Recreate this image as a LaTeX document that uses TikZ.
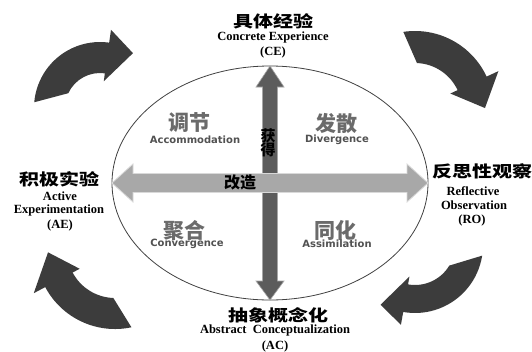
\documentclass[tikz,border=0pt]{standalone}
\usepackage{fontspec}
\setmainfont{Liberation Serif}
\newfontfamily\cjk{Noto Sans CJK SC}
\newfontfamily\cjkwide[FakeStretch=1.25]{Noto Sans CJK SC}
\newfontfamily\dvs{DejaVu Sans}
\usetikzlibrary{calc}
\definecolor{cdark}{HTML}{3C3C3C}
\definecolor{vdark}{HTML}{5C5C5C}
\definecolor{hlight}{HTML}{A8A8A8}
\newcommand{\carrow}[9]{%
  \fill[cdark] ($(#1,#2)+({#5}:{#4})$) arc[start angle=#5, end angle=#7, radius=#4]
    -- ($(#1,#2)+({#7}:{#4+13})$) -- ($(#1,#2)+({#8}:{#9})$) -- ($(#1,#2)+({#7}:{#3-8})$)
    -- ($(#1,#2)+({#7}:{#3})$) arc[start angle=#7, end angle=#6, radius=#3] -- cycle;}
\begin{document}
\begin{tikzpicture}[x=1pt,y=-1pt,
  cornercn/.style={inner sep=0pt, font=\cjkwide\bfseries\fontsize{16}{18}\selectfont},
  corneren/.style={inner sep=0pt, font=\bfseries\fontsize{12.5}{14}\selectfont},
  quadcn/.style={inner sep=0pt, text=black!58, font=\cjk\bfseries\fontsize{21}{23}\selectfont},
  quaden/.style={inner sep=0pt, text=black!68, font=\dvs\bfseries\fontsize{10}{12}\selectfont},
  arrowlabel/.style={inner sep=0pt, text=black, font=\cjk\bfseries\fontsize{15}{16}\selectfont},
  ellipseline/.style={draw=black!75, line width=0.8pt, fill=white}]
\useasboundingbox (0,0) rectangle (532,351);
\fill[white] (0,0) rectangle (532,351);

% ellipse
\draw[ellipseline] (270,183) ellipse[x radius=158, y radius=117];

% vertical double arrow
\draw[fill=vdark, draw=black!35, line width=0.6pt]
  (270,66) -- (284,87) -- (277.5,87) -- (277.5,281) -- (284,281) -- (270,300)
  -- (256,281) -- (262.5,281) -- (262.5,87) -- (256,87) -- cycle;
% horizontal double arrow
\draw[fill=hlight, draw=black!15, line width=0.8pt]
  (112,183) -- (133,164) -- (133,173.5) -- (407,173.5) -- (407,164) -- (428,183)
  -- (407,202) -- (407,192.5) -- (133,192.5) -- (133,202) -- cycle;

\node[arrowlabel, align=center] (get) at (268,143) {获\\[-2pt]得};
\node[arrowlabel, font=\cjk\bfseries\fontsize{16}{18}\selectfont] (transform) at (240,182) {改造};

% quadrant labels
\node[quadcn] (acc) at (189,123) {调节};
\node[quaden] (acce) at (195,140) {Accommodation};
\node[quadcn] (div) at (336,123) {发散};
\node[quaden] (dive) at (337,140) {Divergence};
\node[quadcn] (con) at (184,230) {聚合};
\node[quaden] (cone) at (187,244) {Convergence};
\node[quadcn] (ass) at (335,230) {同化};
\node[quaden] (asse) at (337,244) {Assimilation};

% top
\node[cornercn] (ce) at (273,21) {具体经验};
\node[corneren] (cee) at (273,37) {Concrete Experience};
\node[corneren] (ceab) at (273,52) {(CE)};
% bottom
\node[cornercn] (ac) at (278,315) {抽象概念化};
\node[corneren] (ace) at (275,330) {Abstract\ \ Conceptualization};
\node[corneren] (acab) at (275,346) {(AC)};
% left
\node[cornercn] (ae) at (59,179) {积极实验};
\node[corneren] (aee1) at (60,196) {Active};
\node[corneren] (aee2) at (59,210) {Experimentation};
\node[corneren] (aeab) at (60,225) {(AE)};
% right
\node[cornercn, anchor=west] (ro) at (432,171) {反思性观察};
\node[corneren] (roe1) at (473,191) {Reflective};
\node[corneren] (roe2) at (474,205) {Observation};
\node[corneren] (roab) at (472,220) {(RO)};

% curved cycle arrows
\carrow{100}{108}{35}{66}{185}{205}{278}{301}{64}
\carrow{415}{110}{47}{79}{261.5}{272.4}{335}{358.4}{70}
\carrow{415}{245}{40}{68}{9}{31}{100}{120}{69}
\carrow{115}{250}{48}{79}{78}{92}{152}{178}{67}
\end{tikzpicture}
\end{document}
